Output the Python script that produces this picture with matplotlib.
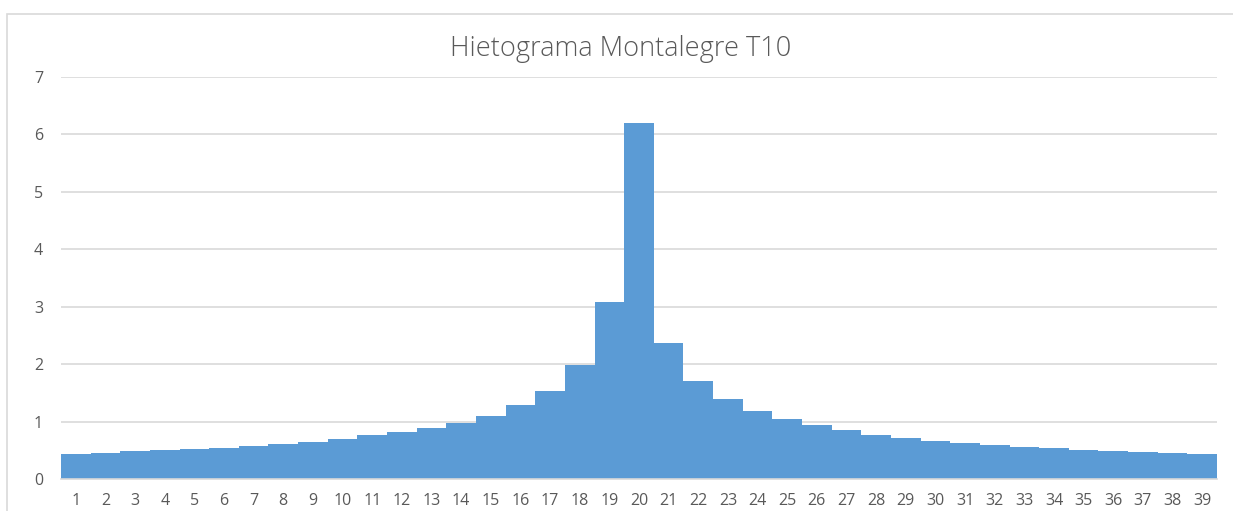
import matplotlib.pyplot as plt
from matplotlib.patches import Rectangle

# Precipitation per time step
intervals = list(range(1, 40))
rain = [0.435, 0.46, 0.49, 0.505, 0.52, 0.545, 0.58, 0.615, 0.65, 0.70,
        0.76, 0.81, 0.88, 0.98, 1.10, 1.28, 1.53, 1.98, 3.09, 6.20,
        2.37, 1.71, 1.39, 1.18, 1.045, 0.94, 0.85, 0.77, 0.72, 0.67,
        0.63, 0.59, 0.56, 0.535, 0.505, 0.48, 0.465, 0.45, 0.435]
y_ticks = list(range(0, 8))
title = "Hietograma Montalegre T10"

plt.rcParams['font.family'] = ['Open Sans', 'DejaVu Sans']

fig = plt.figure(figsize=(12.33, 5.11), dpi=100)
ax = fig.add_axes([61 / 1233, 1 - 479 / 511, (1217 - 61) / 1233, (479 - 77) / 511])

# chart frame (Excel style), partly cut off at the right and bottom
fig.patches.append(Rectangle((7 / 1233, -0.1), 1.2, 1 - 14 / 511 + 0.1,
                             transform=fig.transFigure, fill=False,
                             edgecolor='#D9D9D9', linewidth=1.2))

ax.bar(intervals, rain, width=1.0, color='#5B9BD5', linewidth=0, zorder=2)

ax.set_xlim(0.5, 39.5)
ax.set_ylim(0, 7)
ax.set_yticks(y_ticks)
ax.set_xticks(intervals)
ax.grid(axis='y', color='#D9D9D9', linewidth=1.2, zorder=0)
ax.set_axisbelow(True)

for side in ['top', 'right', 'left']:
    ax.spines[side].set_visible(False)
ax.spines['bottom'].set_color('#D9D9D9')
ax.spines['bottom'].set_linewidth(1.2)

ax.tick_params(axis='both', length=0, labelsize=11.5, labelcolor='#595959')
ax.tick_params(axis='y', pad=13)
ax.tick_params(axis='x', pad=10)

fig.text(621 / 1233, 1 - 49 / 511, title, ha='center', va='center',
         fontsize=19.5, fontweight='light', color='#595959')

fig.savefig("out.png", dpi=100)
